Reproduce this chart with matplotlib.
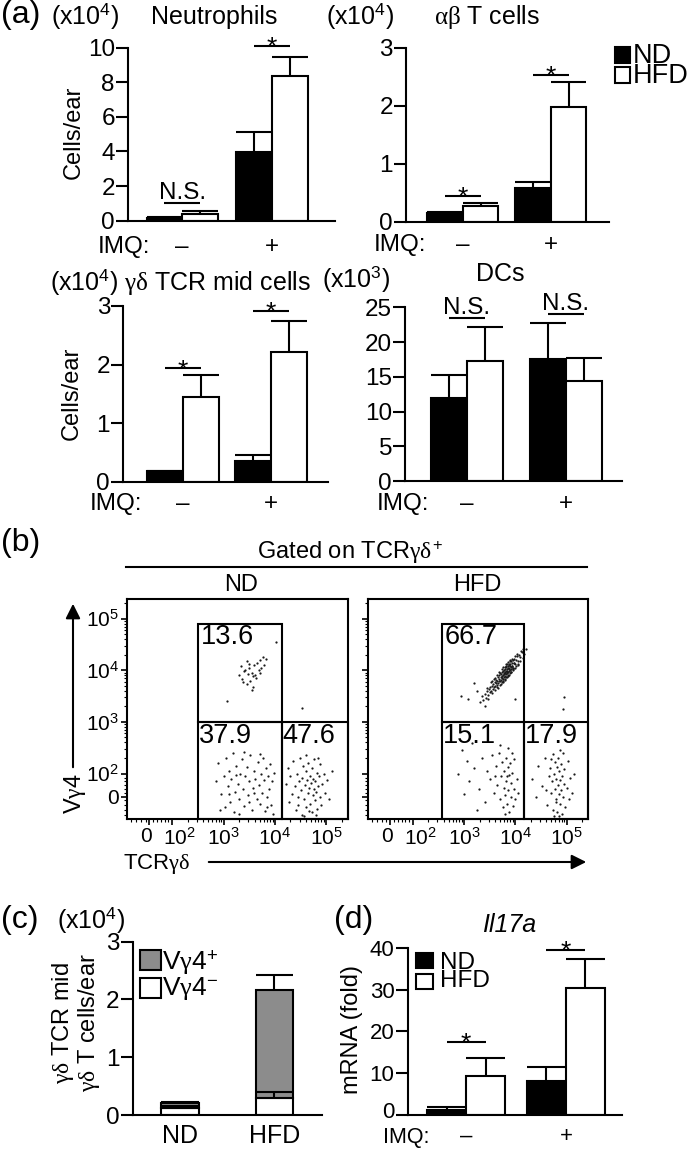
import numpy as np
import matplotlib
matplotlib.use("Agg")
import matplotlib.pyplot as plt
from matplotlib.patches import Rectangle
from matplotlib.transforms import ScaledTranslation

plt.rcParams['font.family'] = ['Liberation Sans', 'DejaVu Sans']
plt.rcParams['mathtext.fontset'] = 'custom'
plt.rcParams['mathtext.rm'] = 'Liberation Sans'
plt.rcParams['mathtext.it'] = 'Liberation Serif'
plt.rcParams['mathtext.bf'] = 'Liberation Sans:bold'
plt.rcParams['mathtext.sf'] = 'Liberation Sans'

# ---------------- data ----------------
imq_groups = ['–', '+']

# (a) order within each list: IMQ -, IMQ +
neut_nd = [0.18, 3.99]
neut_nd_err = [0.03, 1.11]
neut_hfd = [0.39, 8.38]
neut_hfd_err = [0.17, 1.10]
neut_sig = ['N.S.', '*']
neut_sig_y = [1.04, 10.08]

ab_nd = [0.155, 0.575]
ab_nd_err = [0.01, 0.115]
ab_hfd = [0.27, 1.98]
ab_hfd_err = [0.06, 0.43]
ab_sig = ['*', '*']
ab_sig_y = [0.45, 2.53]

gd_nd = [0.18, 0.36]
gd_nd_err = [0.01, 0.095]
gd_hfd = [1.44, 2.21]
gd_hfd_err = [0.38, 0.54]
gd_sig = ['*', '*']
gd_sig_y = [1.935, 2.92]

dc_nd = [11.9, 17.6]
dc_nd_err = [3.3, 5.1]
dc_hfd = [17.3, 14.4]
dc_hfd_err = [4.8, 3.3]
dc_sig = ['N.S.', 'N.S.']
dc_sig_y = [23.4, 24.0]

# (c) stacked
diet_groups = ['ND', 'HFD']
vg4_neg = [0.12, 0.29]
vg4_neg_err = [0.03, 0.10]
vg4_pos = [0.09, 1.87]
vg4_pos_err = [0.02, 0.27]

# (d) Il17a
il_nd = [1.2, 8.2]
il_nd_err = [0.8, 3.35]
il_hfd = [9.3, 30.3]
il_hfd_err = [4.4, 6.9]
il_sig = ['*', '*']
il_sig_y = [17.4, 39.4]

# (b) flow events, display (log-like) units: 10^k -> k, 0 -> 1.55
nd_gate_pct = ['13.6', '37.9', '47.6']
hfd_gate_pct = ['66.7', '15.1', '17.9']

nd_up = [(3.30,3.90),(3.35,3.84),(3.42,4.00),(3.50,4.05),(3.55,3.95),(3.60,4.10),(3.65,4.15),
         (3.70,4.20),(3.72,4.04),(3.78,4.10),(3.82,4.22),(3.45,3.74),(3.52,3.80),(3.58,3.68),
         (3.62,3.90),(3.68,4.00),(3.40,3.98),(3.48,3.92),(3.55,3.62),(3.63,3.85),(3.33,4.08),
         (3.38,3.78),(3.46,4.18),(3.71,3.95),(3.76,4.25),(3.50,4.12),(3.58,3.88),(3.06,3.40),
         (4.02,4.55),(4.53,3.26)]
nd_ll = [(2.85,1.85),(2.90,2.20),(2.95,1.60),(3.00,1.95),(3.02,1.35),(3.05,2.30),(3.08,1.75),
         (3.10,2.05),(3.12,1.45),(3.15,1.90),(3.18,2.40),(3.20,1.25),(3.22,1.65),(3.25,2.15),
         (3.28,1.80),(3.30,1.50),(3.32,2.00),(3.35,2.28),(3.38,1.70),(3.40,1.38),(3.42,1.95),
         (3.45,2.12),(3.48,1.58),(3.50,1.85),(3.52,2.35),(3.55,1.30),(3.58,1.72),(3.60,2.05),
         (3.62,1.90),(3.64,1.50),(3.66,2.22),(3.68,1.78),(3.70,1.42),(3.72,2.00),(3.74,1.62),
         (3.76,2.30),(3.78,1.88),(3.80,1.28),(3.82,2.10),(3.84,1.55),(3.86,1.95),(3.88,1.70),
         (3.90,2.18),(3.92,1.40),(3.95,1.85),(3.98,2.02),(3.96,1.22),(3.60,1.62),(3.40,2.42),
         (3.30,1.22),(3.10,1.60),(2.92,1.30),(3.50,1.45),(3.70,2.38),(3.25,1.98),(3.85,1.35)]
nd_lr = [(4.22,1.80),(4.25,2.10),(4.28,1.45),(4.30,1.95),(4.33,1.60),(4.35,2.25),(4.38,1.75),
         (4.40,1.30),(4.42,2.00),(4.44,1.55),(4.46,1.85),(4.48,2.30),(4.50,1.68),(4.52,1.20),
         (4.53,1.92),(4.55,2.15),(4.56,1.50),(4.58,1.78),(4.60,2.05),(4.61,1.35),(4.62,1.88),
         (4.64,1.62),(4.65,2.20),(4.66,1.72),(4.68,1.95),(4.69,1.42),(4.70,1.82),(4.71,2.10),
         (4.72,1.25),(4.73,1.58),(4.74,1.90),(4.75,1.70),(4.76,2.28),(4.77,1.48),(4.78,1.85),
         (4.80,1.65),(4.81,2.02),(4.82,1.32),(4.84,1.76),(4.85,1.95),(4.87,1.55),(4.88,2.18),
         (4.90,1.40),(4.92,1.80),(4.95,2.00),(4.98,1.62),(5.02,1.88),(5.06,1.50),(5.10,2.05),
         (4.57,1.18),(4.67,1.28),(4.79,1.20),(4.60,2.35),(4.45,1.40),(4.83,2.30)]

hfd_up = [(3.30,3.38),(3.34,3.50),(3.37,3.42),(3.40,3.55),(3.42,3.47),(3.44,3.60),(3.46,3.52),
          (3.48,3.63),(3.50,3.57),(3.51,3.68),(3.53,3.60),(3.54,3.70),(3.56,3.64),(3.57,3.74),
          (3.58,3.67),(3.60,3.78),(3.61,3.70),(3.62,3.76),(3.63,3.82),(3.64,3.72),(3.65,3.80),
          (3.66,3.86),(3.67,3.75),(3.68,3.83),(3.69,3.90),(3.70,3.79),(3.71,3.86),(3.72,3.93),
          (3.72,3.81),(3.73,3.88),(3.74,3.96),(3.75,3.84),(3.75,3.91),(3.76,3.98),(3.77,3.87),
          (3.78,3.94),(3.78,4.01),(3.79,3.89),(3.80,3.96),(3.80,4.03),(3.81,3.92),(3.82,3.99),
          (3.82,4.06),(3.83,3.94),(3.84,4.02),(3.85,3.97),(3.85,4.09),(3.86,4.04),(3.87,3.99),
          (3.88,4.10),(3.88,4.05),(3.89,4.01),(3.90,4.12),(3.91,4.07),(3.92,4.02),(3.93,4.14),
          (3.94,4.09),(3.95,4.19),(3.96,4.05),(3.97,4.15),(3.98,4.22),(4.00,4.12),(4.02,4.20),
          (4.04,4.28),(4.06,4.18),(4.08,4.30),(4.10,4.25),(4.13,4.36),(4.16,4.32),(4.20,4.42),
          (3.74,3.78),(3.79,3.82),(3.83,3.86),(3.87,3.91),(3.70,3.95),(3.76,4.06),(3.81,4.12),
          (3.86,4.16),(3.92,3.96),(3.95,4.00),(3.65,3.68),(3.60,3.85),(3.55,3.80),(3.90,4.20),
          (4.05,4.10),(3.45,3.66),(3.47,3.45),(3.55,3.56),(3.53,3.77),(3.60,3.62),(3.59,3.84),
          (3.66,3.66),(3.64,3.90),(3.70,3.72),(3.69,3.97),(3.71,3.74),(3.75,3.78),(3.74,4.02),
          (3.76,3.80),(3.80,3.83),(3.79,4.07),(3.81,3.86),(3.82,4.08),(3.85,3.88),(3.84,4.12),
          (3.86,3.90),(3.87,4.13),(3.90,3.94),(3.89,4.17),(3.91,3.96),(3.92,4.18),(3.95,4.04),
          (3.94,4.22),(3.96,4.02),(4.00,4.05),(3.99,4.27),(4.01,4.08),(4.05,4.12),(4.04,4.32),
          (4.10,4.17),(4.11,4.37),(4.15,4.24),(4.14,4.42),(3.77,3.92),(3.83,3.97),(3.88,4.03),
          (3.93,4.08),(3.73,3.85),(3.68,3.80),(3.98,4.14),(3.79,3.94),(3.84,3.99),(3.89,4.08),
          (2.93,3.51),(3.07,3.44),(4.00,3.44),(3.19,3.75),(3.25,3.60),(3.40,3.30),
          (4.95,3.48),(4.93,3.25)]
hfd_ll = [(2.88,2.00),(2.95,2.45),(3.00,1.60),(3.05,2.25),(3.10,1.85),(3.15,2.60),(3.20,2.10),
          (3.28,1.70),(3.35,2.30),(3.40,1.45),(3.45,2.05),(3.50,1.90),(3.55,2.35),(3.58,1.62),
          (3.62,2.15),(3.65,1.78),(3.68,2.40),(3.70,1.50),(3.72,1.95),(3.74,2.22),(3.76,1.35),
          (3.77,1.72),(3.78,2.05),(3.80,1.58),(3.81,2.30),(3.82,1.85),(3.84,1.42),(3.85,2.12),
          (3.86,1.68),(3.87,1.98),(3.88,1.25),(3.90,2.20),(3.91,1.55),(3.92,1.82),(3.94,2.02),
          (3.95,1.38),(3.97,1.70),(3.98,2.28),(4.00,1.50),(4.03,1.90),(4.06,1.62),(3.79,1.22),
          (3.70,2.55),(3.86,2.50),(3.25,1.30),(3.93,2.40),(3.60,1.95),(3.83,1.95)]
hfd_lr = [(4.32,1.90),(4.40,1.55),(4.45,2.15),(4.52,1.75),(4.58,2.30),(4.62,1.40),(4.65,1.95),
          (4.68,2.10),(4.70,1.62),(4.72,1.85),(4.73,2.38),(4.74,1.30),(4.76,2.00),(4.77,1.70),
          (4.78,2.22),(4.79,1.50),(4.80,1.90),(4.81,2.12),(4.82,1.25),(4.83,1.78),(4.84,2.30),
          (4.85,1.60),(4.86,2.05),(4.87,1.42),(4.88,1.88),(4.89,2.18),(4.90,1.68),(4.91,1.22),
          (4.92,1.95),(4.93,2.40),(4.94,1.55),(4.95,1.80),(4.96,2.08),(4.98,1.35),(5.00,1.72),
          (5.02,2.25),(5.04,1.50),(5.06,1.92),(5.10,1.62),(5.15,2.00),(4.75,1.18),(4.85,1.18),
          (4.70,2.28),(4.60,1.68),(4.88,2.45),(4.80,1.45)]

# ---------------- styling ----------------
W, H = 692, 1149
LW = 1.5
FS_TICK = 17.5
FS_LAB = 18
FS_ROT = 17
FS_PANEL = 23
FS_GATE = 19.5
GRAY = '#8c8c8c'

fig = plt.figure(figsize=(W / 100, H / 100), dpi=100)


def px_axes(left, right, top, bottom):
    return fig.add_axes([left / W, 1 - bottom / H, (right - left) / W, (bottom - top) / H])


ov = fig.add_axes([0, 0, 1, 1])
ov.set_xlim(0, W)
ov.set_ylim(H, 0)
ov.axis('off')


def otext(x, y, s, size=FS_LAB, **kw):
    kw.setdefault('ha', 'center')
    kw.setdefault('va', 'center')
    ov.text(x, y, s, fontsize=size, **kw)


def style_bar_axes(ax, ymax, ystep, xmax, tick_fs=FS_TICK):
    ax.set_xlim(0, xmax)
    ax.set_ylim(0, ymax)
    for s in ['top', 'right']:
        ax.spines[s].set_visible(False)
    for s in ['left', 'bottom']:
        ax.spines[s].set_linewidth(LW)
    ax.set_yticks(np.arange(0, ymax + ystep / 2, ystep))
    ax.tick_params(axis='y', length=8.5, width=LW, labelsize=tick_fs, pad=1)
    ax.set_xticks([])
    ax.patch.set_alpha(0)


def under(ax, x, s, dy_px, size=FS_TICK):
    ax.annotate(s, xy=(x, 0), xycoords=('data', 'axes fraction'),
                xytext=(0, -dy_px * 0.72), textcoords='offset points',
                ha='center', va='center', fontsize=size, annotation_clip=False)


def err_up(ax, xs, vals, errs, w=1.0, z=3):
    xs = np.asarray(xs)
    top = np.asarray(vals) + np.asarray(errs)
    ax.vlines(xs, vals, top, color='k', lw=LW, zorder=z)
    ax.hlines(top, xs - w / 2, xs + w / 2, color='k', lw=LW, zorder=z)


def sig(ax, x0, x1, y, s):
    ax.plot([x0, x1], [y, y], color='k', lw=LW, clip_on=False, solid_capstyle='butt')
    if s == '*':
        ax.annotate(s, xy=((x0 + x1) / 2, y), xytext=(0, -6.5), textcoords='offset points',
                    ha='center', va='baseline', fontsize=19, annotation_clip=False)
    else:
        ax.annotate(s, xy=((x0 + x1) / 2, y), xytext=(0, 3), textcoords='offset points',
                    ha='center', va='baseline', fontsize=17.5, annotation_clip=False)


def bar_panel(ax, nd, nd_err, hfd, hfd_err, sig_txt, sig_y, off, gap, xmax, ymax, ystep,
              imq_dy, tick_fs=FS_TICK, imq_fs=FS_TICK):
    style_bar_axes(ax, ymax, ystep, xmax, tick_fs)
    nd_x = np.array([off + 0.5, off + 0.5 + 2 + gap])
    hfd_x = nd_x + 1
    err_up(ax, nd_x, nd, nd_err)
    err_up(ax, hfd_x, hfd, hfd_err)
    ax.bar(nd_x, nd, width=1.0, color='black', edgecolor='black', lw=LW, zorder=2)
    ax.bar(hfd_x, hfd, width=1.0, color='white', edgecolor='black', lw=LW, zorder=2)
    for i in range(2):
        sig(ax, nd_x[i], hfd_x[i], sig_y[i], sig_txt[i])
        under(ax, nd_x[i] + 0.5, imq_groups[i], imq_dy, imq_fs)


# ---------------- (a) ----------------
ax1 = px_axes(128, 335, 47.7, 220.7)
bar_panel(ax1, neut_nd, neut_nd_err, neut_hfd, neut_hfd_err, neut_sig, neut_sig_y,
          0.52, 0.52, 5.8, 10, 2, 26)
ax2 = px_axes(406, 609, 47.7, 221.7)
bar_panel(ax2, ab_nd, ab_nd_err, ab_hfd, ab_hfd_err, ab_sig, ab_sig_y,
          0.6, 0.48, 5.72, 3, 1, 23)
ax3 = px_axes(123.3, 328.3, 306, 481.7)
bar_panel(ax3, gd_nd, gd_nd_err, gd_hfd, gd_hfd_err, gd_sig, gd_sig_y,
          0.65, 0.45, 5.69, 3, 1, 22)
ax4 = px_axes(405.3, 622, 307.3, 481)
bar_panel(ax4, dc_nd, dc_nd_err, dc_hfd, dc_hfd_err, dc_sig, dc_sig_y,
          0.7, 0.75, 6.0, 25, 5, 22.5)

otext(1, 15, '(a)', FS_PANEL, ha='left')
otext(85, 16, r'(x10$^{\mathrm{4}}$)', FS_LAB)
otext(214, 17, 'Neutrophils', FS_LAB)
otext(360, 16, r'(x10$^{\mathrm{4}}$)', FS_LAB)
otext(487, 17, r'$\alpha\beta$ T cells', FS_LAB)
otext(50, 282, r'(x10$^{\mathrm{4}}$) $\gamma\delta$ TCR mid cells', FS_LAB, ha='left')
otext(356, 279, r'(x10$^{\mathrm{3}}$)', FS_LAB)
otext(500, 274, 'DCs', FS_LAB)
otext(74, 132, 'Cells/ear', FS_ROT, rotation=90)
otext(72, 393, 'Cells/ear', FS_ROT, rotation=90)
otext(124, 247, 'IMQ:', FS_TICK)
otext(400, 245, 'IMQ:', FS_TICK)
otext(116, 504, 'IMQ:', FS_TICK)
otext(403, 504, 'IMQ:', FS_TICK)

# legend (a)
ov.add_patch(Rectangle((615, 47), 15, 16, facecolor='black', edgecolor='black', lw=LW))
ov.add_patch(Rectangle((615, 67), 15, 16, facecolor='white', edgecolor='black', lw=LW))
otext(633, 66, 'ND\nHFD', 19.5, ha='left', linespacing=0.68)

# ---------------- (b) ----------------
otext(1, 543, '(b)', FS_PANEL, ha='left')
otext(350, 553, r'Gated on TCR$\gamma\delta^{+}$', FS_ROT)
ov.plot([126, 587], [566.7, 566.7], color='k', lw=LW)
otext(241, 585, 'ND', FS_ROT)
otext(477, 585, 'HFD', FS_ROT)

major_pos = [1.55, 2, 3, 4, 5]
major_lab = ['0', r'10$^{\mathrm{2}}$', r'10$^{\mathrm{3}}$', r'10$^{\mathrm{4}}$', r'10$^{\mathrm{5}}$']
minor_pos = [1.2, 1.3, 1.4, 1.48, 1.62, 1.7, 1.78, 1.85, 1.92]
for n in [2, 3, 4, 5]:
    for k in range(2, 10):
        v = n + np.log10(k)
        if v < 5.4:
            minor_pos.append(v)


def flow_panel(ax, up, ll, lr, x1, x2, pct, ylabels):
    ax.set_xlim(1.12, 5.42)
    ax.set_ylim(1.12, 5.38)
    for pts in [up, ll, lr]:
        a = np.array(pts)
        ax.scatter(a[:, 0], a[:, 1], s=2.6, c='#1a1a1a', linewidths=0, zorder=2)
    ybot, ytop, ysplit, xr = 1.12, 4.9, 3.0, 5.42
    for (xa, xb, ya, yb) in [(x1, x2, ysplit, ytop), (x1, x2, ybot, ysplit), (x2, xr, ybot, ysplit)]:
        ax.add_patch(Rectangle((xa, ya), xb - xa, yb - ya, fill=False, edgecolor='k',
                               lw=LW, zorder=3, clip_on=False))
    ax.annotate(pct[0], xy=(x1, ytop), xytext=(1.5, -0.5), textcoords='offset points',
                ha='left', va='top', fontsize=FS_GATE)
    ax.annotate(pct[1], xy=(x1, ysplit), xytext=(0.5, -0.5), textcoords='offset points',
                ha='left', va='top', fontsize=FS_GATE)
    ax.annotate(pct[2], xy=(x2, ysplit), xytext=(0.5, -0.5), textcoords='offset points',
                ha='left', va='top', fontsize=FS_GATE)
    for s in ax.spines.values():
        s.set_linewidth(LW)
    ax.set_xticks(major_pos)
    ax.set_xticklabels(major_lab)
    ax.set_yticks(major_pos)
    ax.set_yticklabels(major_lab if ylabels else [])
    ax.set_xticks(minor_pos, minor=True)
    ax.set_yticks(minor_pos, minor=True)
    ax.tick_params(which='major', length=4.5, width=1.2, labelsize=15, pad=1.5)
    ax.tick_params(which='minor', length=2.5, width=0.8)
    # nudge "0" left and "10^2" right so the two close labels stay apart
    xl = ax.get_xticklabels()
    xl[0].set_transform(xl[0].get_transform() + ScaledTranslation(-3 / 100, 0, fig.dpi_scale_trans))
    xl[1].set_transform(xl[1].get_transform() + ScaledTranslation(7 / 100, 0, fig.dpi_scale_trans))


axf1 = px_axes(127, 348, 599, 819)
flow_panel(axf1, nd_up, nd_ll, nd_lr, 2.51, 4.13, nd_gate_pct, True)
axf2 = px_axes(368, 588, 599, 819)
flow_panel(axf2, hfd_up, hfd_ll, hfd_lr, 2.57, 4.17, hfd_gate_pct, False)

otext(75, 794, r'V$\gamma$4', FS_ROT, rotation=90)
ov.annotate('', xy=(73, 601), xytext=(73, 770),
            arrowprops=dict(arrowstyle='-|>', lw=LW, color='k', mutation_scale=22))
otext(157, 864, r'TCR$\gamma\delta$', 16)
ov.annotate('', xy=(589, 862), xytext=(206, 862),
            arrowprops=dict(arrowstyle='-|>', lw=LW, color='k', mutation_scale=22))

# ---------------- (c) ----------------
axc = px_axes(132.7, 321.7, 941.7, 1115)
style_bar_axes(axc, 3, 1, 4)
cx = np.array([1.0, 3.0])
tot = np.array(vg4_neg) + np.array(vg4_pos)
axc.bar(cx, vg4_neg, width=0.8, color='white', edgecolor='black', lw=LW, zorder=2)
axc.bar(cx, vg4_pos, width=0.8, bottom=vg4_neg, color=GRAY, edgecolor='black', lw=LW, zorder=2)
err_up(axc, cx, tot, vg4_pos_err, w=0.8, z=1)
err_up(axc, cx, vg4_neg, vg4_neg_err, w=0.8, z=4)
for i in range(2):
    under(axc, cx[i], diet_groups[i], 21, FS_LAB)

otext(1, 920, '(c)', FS_PANEL, ha='left')
otext(91, 920, r'(x10$^{\mathrm{4}}$)', FS_LAB)
otext(76, 1023, '$\\gamma\\delta$ TCR mid\n$\\gamma\\delta$ T cells/ear', FS_ROT,
      rotation=90, linespacing=1.05)
ov.add_patch(Rectangle((140, 950), 20.5, 20, facecolor=GRAY, edgecolor='black', lw=LW))
ov.add_patch(Rectangle((140, 978), 20.5, 20, facecolor='white', edgecolor='black', lw=LW))
otext(162, 975, 'V$\\gamma$4$^{+}$\nV$\\gamma$4$^{-}$', 19, ha='left', linespacing=0.92)

# ---------------- (d) ----------------
axd = px_axes(407.7, 622, 947.7, 1115)
bar_panel(axd, il_nd, il_nd_err, il_hfd, il_hfd_err, il_sig, il_sig_y,
          0.5, 0.56, 5.5, 40, 10, 21, tick_fs=16, imq_fs=16)
# lift the "0" label a little so it clears the IMQ row below
zero_lbl = axd.get_yticklabels()[0]
zero_lbl.set_va('center')
zero_lbl.set_transform(zero_lbl.get_transform() + ScaledTranslation(0, 3 / 100, fig.dpi_scale_trans))
otext(334, 920, '(d)', FS_PANEL, ha='left')
otext(509, 925, 'Il17a', FS_LAB, style='italic')
otext(352, 1030, 'mRNA (fold)', FS_ROT, rotation=90)
otext(406, 1137, 'IMQ:', 15.5)
ov.add_patch(Rectangle((416, 953), 17, 15, facecolor='black', edgecolor='black', lw=LW))
ov.add_patch(Rectangle((416, 974), 17, 15, facecolor='white', edgecolor='black', lw=LW))
otext(440, 972, 'ND\nHFD', 17.5, ha='left', linespacing=0.78)

fig.savefig('out.png', dpi=100)
